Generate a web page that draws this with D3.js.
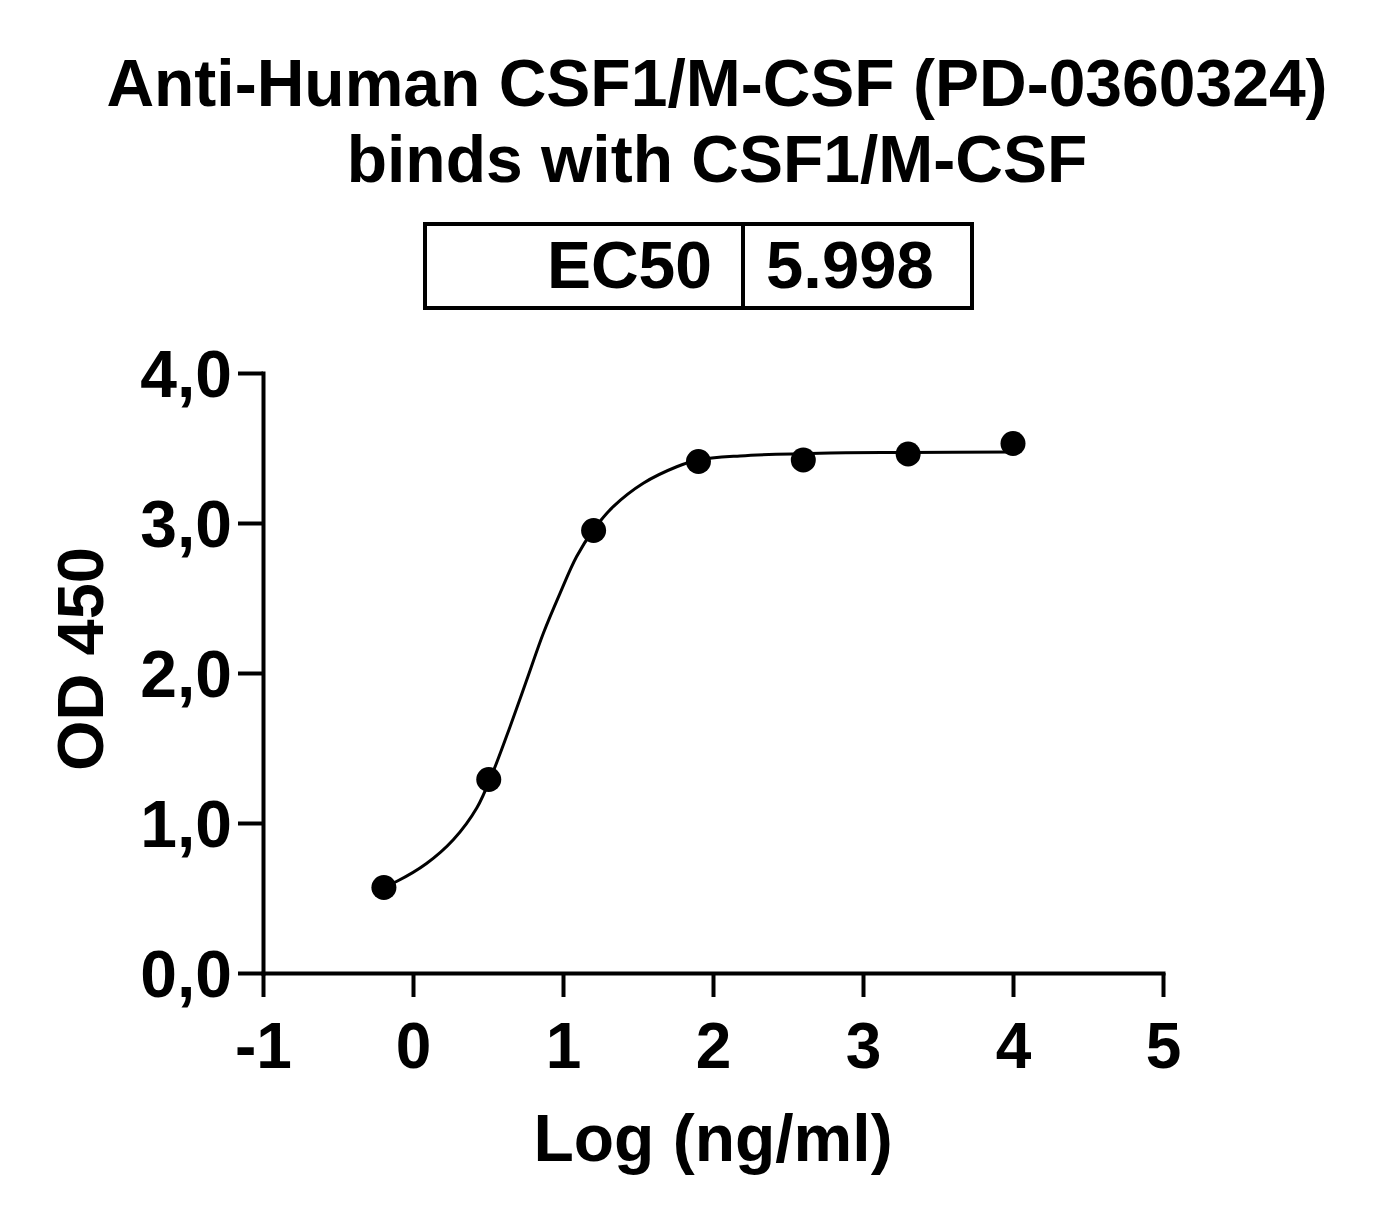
<!DOCTYPE html>
<html>
<head>
<meta charset="utf-8">
<script src="https://cdn.jsdelivr.net/npm/d3@7"></script>
<style>
  body { margin: 0; background: #fff; }
  text { font-family: "Liberation Sans", Arial, sans-serif; font-weight: bold; fill: #000; }
</style>
</head>
<body>
<div id="chart"></div>
<script>
// measured points (log ng/ml vs OD450)
const logConc = [-0.194, 0.505, 1.204, 1.903, 2.602, 3.301, 4.0];
const od450 = [0.57, 1.29, 2.95, 3.41, 3.42, 3.46, 3.53];

// fitted curve
const fitX = [-0.194, -0.11, 0.09, 0.27, 0.425, 0.535, 0.647, 0.758, 0.869, 0.98, 1.09, 1.2, 1.335, 1.535, 1.758, 1.9, 2.18, 2.78, 3.3, 4.0];
const fitY = [0.575, 0.61, 0.73, 0.89, 1.1, 1.345, 1.642, 1.953, 2.265, 2.531, 2.775, 2.95, 3.109, 3.265, 3.375, 3.42, 3.447, 3.467, 3.47, 3.473];

const xTicks = [-1, 0, 1, 2, 3, 4, 5];
const yTicks = [0, 1, 2, 3, 4];

const titleLines = ['Anti-Human CSF1/M-CSF (PD-0360324)', 'binds with CSF1/M-CSF'];
const ec50Label = 'EC50';
const ec50Value = '5.998';

const width = 1373, height = 1220;

const svg = d3.select('#chart')
  .append('svg')
  .attr('width', width)
  .attr('height', height);

const x = d3.scaleLinear().domain([-1, 5]).range([263, 1163]);
const y = d3.scaleLinear().domain([0, 4]).range([973, 373]);

const comma = d3.formatLocale({ decimal: ',', thousands: '.', grouping: [3], currency: ['', ''] }).format('.1f');

// title
svg.selectAll('.title')
  .data(titleLines)
  .enter().append('text')
  .attr('class', 'title')
  .attr('text-anchor', 'middle')
  .attr('x', 717)
  .attr('y', (d, i) => 106 + i * 76)
  .style('font-size', '66px')
  .text(d => d);

// EC50 box
const box = svg.append('g');
box.append('rect')
  .attr('x', 425).attr('y', 224)
  .attr('width', 547).attr('height', 84)
  .attr('fill', 'none').attr('stroke', '#000').attr('stroke-width', 4);
box.append('line')
  .attr('x1', 743).attr('x2', 743).attr('y1', 224).attr('y2', 308)
  .attr('stroke', '#000').attr('stroke-width', 4);
box.append('text')
  .attr('x', 712).attr('y', 288)
  .attr('text-anchor', 'end')
  .style('font-size', '66px')
  .text(ec50Label);
box.append('text')
  .attr('x', 766).attr('y', 288)
  .style('font-size', '67px')
  .text(ec50Value);

// axes
const xAxis = svg.append('g')
  .attr('transform', `translate(0,${y(0)})`)
  .call(d3.axisBottom(x).tickValues(xTicks).tickSize(24).tickSizeOuter(0).tickPadding(26).tickFormat(d => String(d)));

const yAxis = svg.append('g')
  .attr('transform', `translate(${x(-1)},0)`)
  .call(d3.axisLeft(y).tickValues(yTicks).tickSize(25).tickSizeOuter(0).tickPadding(6).tickFormat(comma));

[xAxis, yAxis].forEach(ax => {
  ax.select('.domain').attr('stroke', '#000').attr('stroke-width', 4).attr('stroke-linecap', 'square');
  ax.selectAll('.tick line').attr('stroke', '#000').attr('stroke-width', 4);
  ax.selectAll('.tick text').attr('fill', '#000')
    .style('font-family', '"Liberation Sans", Arial, sans-serif').style('font-weight', 'bold');
});
xAxis.selectAll('.tick text').style('font-size', '64px').attr('dy', '0.71em');
yAxis.selectAll('.tick text').style('font-size', '66px').attr('dy', '0.36em');

// axis titles
svg.append('text')
  .attr('x', 713).attr('y', 1161)
  .attr('text-anchor', 'middle')
  .style('font-size', '66px')
  .text('Log (ng/ml)');

svg.append('text')
  .attr('transform', 'translate(103,659) rotate(-90)')
  .attr('text-anchor', 'middle')
  .style('font-size', '65px')
  .text('OD 450');

// fitted curve
const fit = fitX.map((d, i) => [d, fitY[i]]);
svg.append('path')
  .datum(fit)
  .attr('fill', 'none')
  .attr('stroke', '#000')
  .attr('stroke-width', 3)
  .attr('d', d3.line().x(d => x(d[0])).y(d => y(d[1])).curve(d3.curveCatmullRom));

// points
svg.append('g')
  .selectAll('circle')
  .data(logConc.map((d, i) => [d, od450[i]]))
  .enter().append('circle')
  .attr('cx', d => x(d[0]))
  .attr('cy', d => y(d[1]))
  .attr('r', 12.5)
  .attr('fill', '#000');
</script>
</body>
</html>
